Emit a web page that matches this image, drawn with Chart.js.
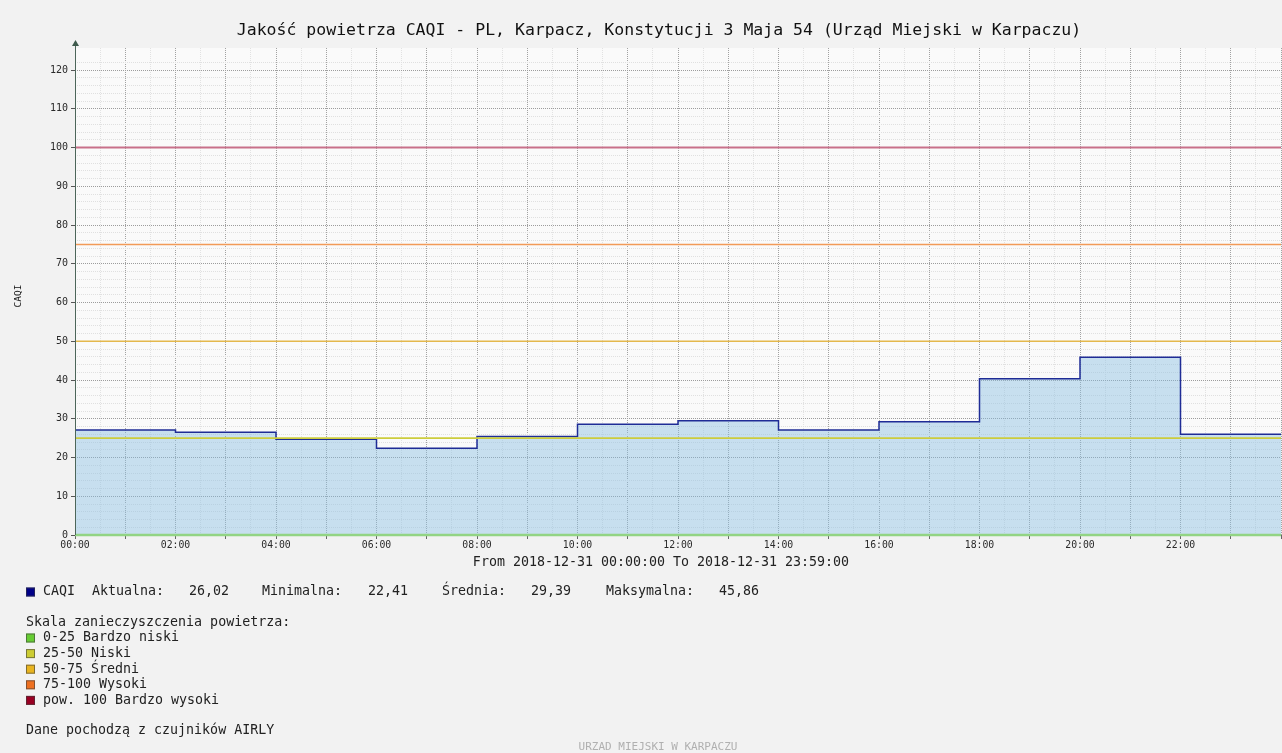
<!DOCTYPE html>
<html>
<head>
<meta charset="utf-8">
<title>CAQI Karpacz</title>
<script src="https://cdn.jsdelivr.net/npm/chart.js@4.4.0/dist/chart.umd.min.js"></script>
<style>
  html, body { margin: 0; padding: 0; background: #f2f2f2; }
  #wrap { position: relative; width: 1282px; height: 753px; }
</style>
</head>
<body>
<div id="wrap"><canvas id="caqiChart" width="1282" height="753"></canvas></div>
<script>
// --- data ---
const hours = [0, 2, 4, 6, 8, 10, 12, 14, 16, 18, 20, 22, 24];
const caqiValues = [27.1, 26.5, 24.7, 22.41, 25.4, 28.6, 29.5, 27.1, 29.2, 40.3, 45.86, 26.02, 26.02];

const thresholdValues = [0, 25, 50, 75, 100];
const thresholdColors = ['#92d484', '#cccc3c', '#e4b84c', '#f29a58', '#c8708a'];

const scaleLabels = ['0-25 Bardzo niski', '25-50 Niski', '50-75 Średni', '75-100 Wysoki', 'pow. 100 Bardzo wysoki'];
const scaleColors = ['#66cc33', '#cccc33', '#e8b420', '#ee7020', '#990022'];

const TITLE = 'Jakość powietrza CAQI - PL, Karpacz, Konstytucji 3 Maja 54 (Urząd Miejski w Karpaczu)';
const RANGE_TEXT = 'From 2018-12-31 00:00:00 To 2018-12-31 23:59:00';
const Y_MAX = 125.7;

const MONO = '"DejaVu Sans Mono", monospace';

// stats for the legend line (last point is just the end of the last step)
const periodValues = caqiValues.slice(0, -1);
const fmt = v => v.toFixed(2).replace('.', ',');
const stats = [
    ['Aktualna:', fmt(periodValues[periodValues.length - 1])],
    ['Minimalna:', fmt(Math.min(...periodValues))],
    ['Średnia:', fmt(periodValues.reduce((s, v) => s + v, 0) / periodValues.length)],
    ['Maksymalna:', fmt(Math.max(...periodValues))]
];

const isHour = v => Math.abs(v - Math.round(v)) < 1e-6;
const isTen = v => Math.abs(v / 10 - Math.round(v / 10)) < 1e-6;

// background, axis arrow and all the texts around the plot
const decorPlugin = {
    id: 'decor',
    beforeDraw(chart) {
        const { ctx, chartArea: a } = chart;
        ctx.save();
        ctx.fillStyle = '#f2f2f2';
        ctx.fillRect(0, 0, chart.width, chart.height);
        ctx.fillStyle = '#fafafa';
        ctx.fillRect(a.left, a.top, a.right - a.left, a.bottom - a.top);
        ctx.restore();
    },
    afterDraw(chart) {
        const { ctx, chartArea: a } = chart;
        ctx.save();

        // y axis line + arrow
        ctx.strokeStyle = '#4d665a';
        ctx.lineWidth = 1;
        ctx.beginPath();
        ctx.moveTo(a.left + 0.5, a.bottom);
        ctx.lineTo(a.left + 0.5, a.top - 3);
        ctx.stroke();
        ctx.fillStyle = '#3d5a4c';
        ctx.beginPath();
        ctx.moveTo(a.left - 3, a.top - 2);
        ctx.lineTo(a.left + 4, a.top - 2);
        ctx.lineTo(a.left + 0.5, a.top - 8);
        ctx.closePath();
        ctx.fill();

        ctx.fillStyle = '#111';
        ctx.textBaseline = 'alphabetic';

        // title
        ctx.font = '16.5px ' + MONO;
        ctx.textAlign = 'center';
        ctx.fillText(TITLE, 659, 35);

        // y axis title
        ctx.save();
        ctx.translate(21, 296);
        ctx.rotate(-Math.PI / 2);
        ctx.font = '9.5px ' + MONO;
        ctx.fillText('CAQI', 0, 0);
        ctx.restore();

        // date range
        ctx.font = '13.3px ' + MONO;
        ctx.fillStyle = '#222';
        ctx.fillText(RANGE_TEXT, 661, 566);

        // legend line
        ctx.textAlign = 'left';
        ctx.textBaseline = 'middle';
        const square = (x, y, color) => {
            ctx.fillStyle = color;
            ctx.fillRect(x, y - 4.5, 9, 9);
            ctx.strokeStyle = 'rgba(60,60,60,0.6)';
            ctx.lineWidth = 1;
            ctx.strokeRect(x + 0.5, y - 4, 8, 8);
        };
        const rowY = 592;
        square(26, rowY, '#000088');
        ctx.fillStyle = '#222';
        ctx.fillText('CAQI', 43, rowY);
        const labelX = [92, 262, 442, 606];
        const valueX = [189, 368, 531, 719];
        stats.forEach(([label, value], i) => {
            ctx.fillText(label, labelX[i], rowY);
            ctx.fillText(value, valueX[i], rowY);
        });

        ctx.fillText('Skala zanieczyszczenia powietrza:', 26, 623);
        scaleLabels.forEach((label, i) => {
            const y = 638 + i * 15.6;
            square(26, y, scaleColors[i]);
            ctx.fillStyle = '#222';
            ctx.fillText(label, 43, y);
        });
        ctx.fillText('Dane pochodzą z czujników AIRLY', 26, 731);

        // footer
        ctx.textAlign = 'center';
        ctx.font = '11px ' + MONO;
        ctx.fillStyle = '#b0b0b0';
        ctx.fillText('URZAD MIEJSKI W KARPACZU', 658, 747);

        ctx.restore();
    }
};

const caqiDataset = {
    label: 'CAQI',
    data: hours.map((h, i) => ({ x: h, y: caqiValues[i] })),
    stepped: true,
    borderColor: '#1f2c96',
    borderWidth: 1.5,
    backgroundColor: 'rgba(135,190,225,0.44)',
    fill: 'origin',
    pointRadius: 0,
    order: 2
};

const thresholdDatasets = thresholdValues.map((v, i) => ({
    label: 'próg ' + v,
    data: [{ x: hours[0], y: v }, { x: hours[hours.length - 1], y: v }],
    borderColor: thresholdColors[i],
    borderWidth: v === 100 ? 2 : (v === 0 ? 2.5 : 1.6),
    fill: false,
    pointRadius: 0,
    clip: false,
    order: 1
}));

new Chart(document.getElementById('caqiChart'), {
    type: 'line',
    data: { datasets: [caqiDataset, ...thresholdDatasets] },
    options: {
        responsive: false,
        animation: false,
        layout: { padding: { top: 48, right: 1, bottom: 198, left: 0 } },
        plugins: {
            legend: { display: false },
            title: { display: false },
            tooltip: { enabled: false }
        },
        scales: {
            x: {
                type: 'linear',
                min: 0,
                max: 24,
                afterFit: scale => { scale.height = 20; },
                grid: {
                    color: c => (c.tick && isHour(c.tick.value)) ? '#a2a2a2' : '#e2e2e2',
                    lineWidth: 1,
                    tickLength: 4,
                    tickColor: c => (c.tick && isHour(c.tick.value)) ? '#666' : 'rgba(0,0,0,0)'
                },
                border: { display: false, dash: [1, 1] },
                ticks: {
                    stepSize: 0.5,
                    autoSkip: false,
                    maxRotation: 0,
                    padding: 1,
                    color: '#2a2a2a',
                    font: { family: MONO, size: 9.8 },
                    callback: v => (isHour(v) && v % 2 === 0 && v < 24) ? String(v).padStart(2, '0') + ':00' : ''
                }
            },
            y: {
                type: 'linear',
                min: 0,
                max: Y_MAX,
                afterFit: scale => { scale.width = 75; },
                grid: {
                    color: c => {
                        if (!c.tick || c.tick.value > Y_MAX - 0.5) return 'rgba(0,0,0,0)';
                        return isTen(c.tick.value) ? '#9c9c9c' : '#e0e0e0';
                    },
                    lineWidth: 1,
                    tickLength: 4,
                    tickColor: c => (c.tick && isTen(c.tick.value) && c.tick.value < Y_MAX - 0.5) ? '#555' : 'rgba(0,0,0,0)'
                },
                border: { display: false, dash: [1, 1] },
                ticks: {
                    stepSize: 2,
                    autoSkip: false,
                    padding: 3,
                    color: '#2a2a2a',
                    font: { family: MONO, size: 10 },
                    callback: v => (isTen(v) && v < Y_MAX - 0.5) ? String(v) : ''
                }
            }
        }
    },
    plugins: [decorPlugin]
});
</script>
</body>
</html>
